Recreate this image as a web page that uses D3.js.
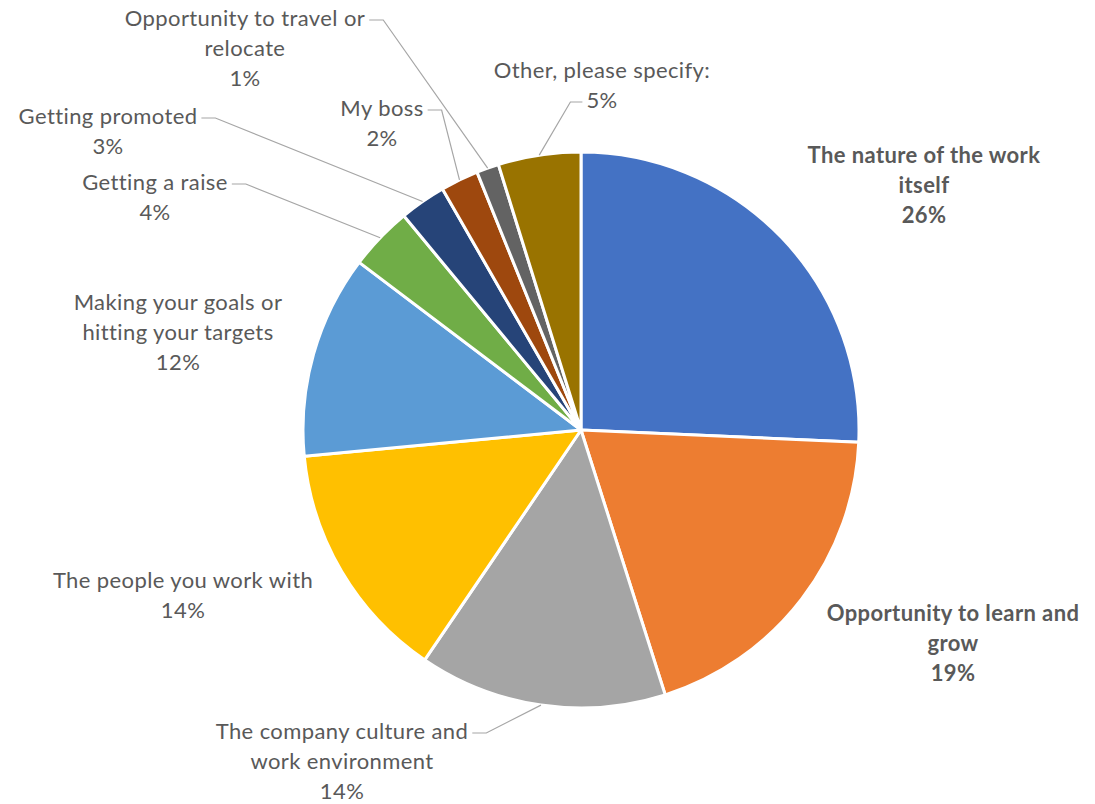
<!DOCTYPE html>
<html>
<head>
<meta charset="utf-8">
<script src="https://cdn.jsdelivr.net/npm/d3@7"></script>
<style>
  body { margin: 0; background: #fff; }
  svg text { font-family: Lato, "Open Sans", sans-serif; font-size: 22px; letter-spacing: 0.4px; fill: #595959; }
</style>
</head>
<body>
<svg width="1095" height="804"></svg>
<script>
var svg = d3.select("svg"),
    width = +svg.attr("width"),
    height = +svg.attr("height");

// data (share of answers, in %)
var categories = [
  "The nature of the work itself",
  "Opportunity to learn and grow",
  "The company culture and work environment",
  "The people you work with",
  "Making your goals or hitting your targets",
  "Getting a raise",
  "Getting promoted",
  "My boss",
  "Opportunity to travel or relocate",
  "Other, please specify:"
];
var values = [25.7, 19.4, 14.4, 14.0, 11.8, 3.7, 2.7, 2.2, 1.3, 4.8];

// how each label wraps, as in the original
var labelLines = [
  ["The nature of the work", "itself"],
  ["Opportunity to learn and", "grow"],
  ["The company culture and", "work environment"],
  ["The people you work with"],
  ["Making your goals or", "hitting your targets"],
  ["Getting a raise"],
  ["Getting promoted"],
  ["My boss"],
  ["Opportunity to travel or", "relocate"],
  ["Other, please specify:"]
];

var colors = ["#4472C4", "#ED7D31", "#A5A5A5", "#FFC000", "#5B9BD5",
              "#70AD47", "#264478", "#9E480E", "#636363", "#997300"];

// label layout: centre x, first baseline y, bold, leader (which line it hangs off, side)
var labelLayout = [
  {x: 924, y: 163, bold: true},
  {x: 953, y: 621, bold: true},
  {x: 342, y: 739, leader: {line: 0, side: "right"}},
  {x: 183, y: 588},
  {x: 178, y: 310},
  {x: 155, y: 190, leader: {line: 0, side: "right"}},
  {x: 108, y: 124, leader: {line: 0, side: "right"}},
  {x: 382, y: 116, leader: {line: 0, side: "right"}},
  {x: 245, y: 26, leader: {line: 0, side: "right"}},
  {x: 602, y: 78, leader: {line: 1, side: "left"}}
];

var cx = 581, cy = 430, radius = 278, lineH = 30;

var data = categories.map(function(c, i) {
  return {name: c, value: values[i], lines: labelLines[i], color: colors[i], layout: labelLayout[i]};
});

var pie = d3.pie().sort(null).value(function(d) { return d.value; });
var arc = d3.arc().innerRadius(0).outerRadius(radius);

var g = svg.append("g").attr("transform", "translate(" + cx + "," + cy + ")");

var arcs = pie(data);

g.selectAll("path")
  .data(arcs)
  .enter().append("path")
  .attr("d", arc)
  .attr("fill", function(d) { return d.data.color; })
  .attr("stroke", "#fff")
  .attr("stroke-width", 3)
  .attr("stroke-linejoin", "round");

var total = d3.sum(values);
var labels = svg.append("g");

arcs.forEach(function(a) {
  var d = a.data, L = d.layout;
  var lines = d.lines.concat([Math.round(d.value / total * 100) + "%"]);
  var t = labels.append("text")
    .attr("text-anchor", "middle")
    .style("font-weight", L.bold ? "bold" : null);
  var spans = [];
  lines.forEach(function(s, k) {
    spans.push(t.append("tspan").attr("x", L.x).attr("y", L.y + k * lineH).text(s));
  });

  if (L.leader) {
    var sp = spans[L.leader.line].node();
    var w = sp.getComputedTextLength();
    var ly = L.y + L.leader.line * lineH - 6;
    var mid = (a.startAngle + a.endAngle) / 2;
    var px = cx + radius * Math.sin(mid),
        py = cy - radius * Math.cos(mid);
    var x0, x1;
    if (L.leader.side === "right") { x0 = L.x + w / 2 + 4; x1 = x0 + 14; }
    else { x0 = L.x - w / 2 - 4; x1 = x0 - 12; }
    labels.append("polyline")
      .attr("points", [[x0, ly], [x1, ly], [px, py]].map(function(p) { return p.join(","); }).join(" "))
      .attr("fill", "none")
      .attr("stroke", "#A6A6A6")
      .attr("stroke-width", 1.2);
  }
});
</script>
</body>
</html>
